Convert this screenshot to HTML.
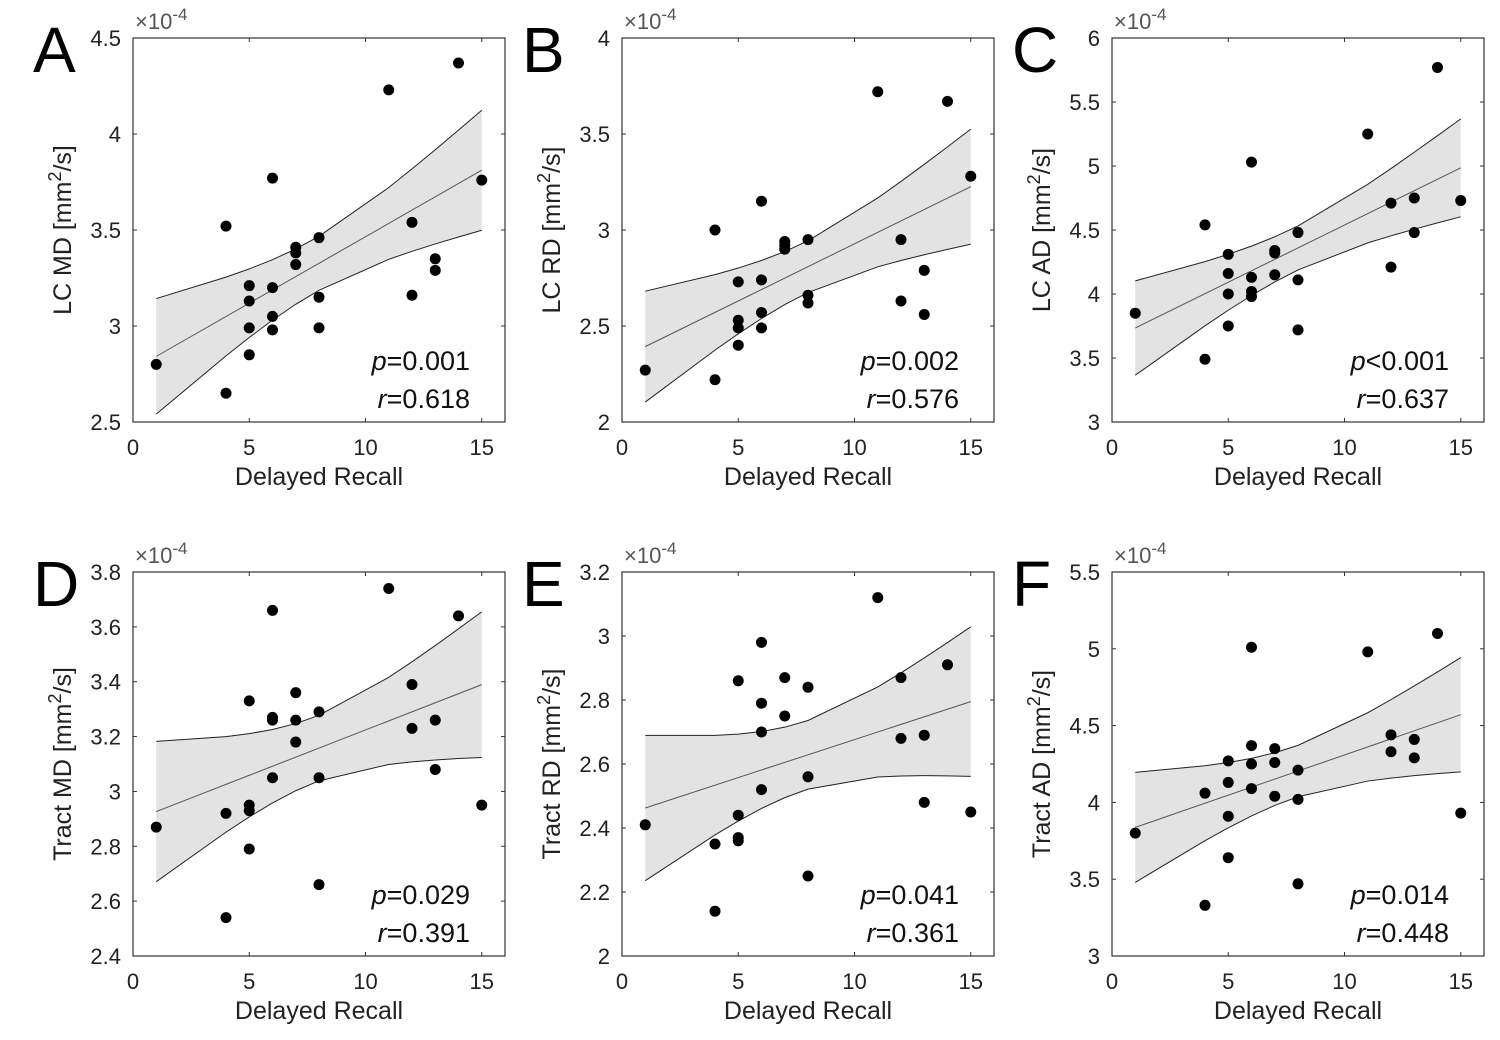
<!DOCTYPE html>
<html><head><meta charset="utf-8"><style>
body{margin:0;background:#fff;}
svg text{font-family:"Liberation Sans","DejaVu Sans",sans-serif;}
</style></head><body>
<svg id="fig" width="1500" height="1035" xmlns="http://www.w3.org/2000/svg"></svg>
<script>
const xA=[1,4,4,5,5,5,5,6,6,6,6,7,7,7,8,8,8,11,12,12,13,13,14,15];
const yA=[2.80,3.52,2.65,3.21,3.13,2.99,2.85,3.77,3.20,3.05,2.98,3.41,3.38,3.32,3.46,3.15,2.99,4.23,3.54,3.16,3.35,3.29,4.37,3.76];
const yB=[2.27,3.00,2.22,2.73,2.53,2.49,2.40,3.15,2.74,2.57,2.49,2.94,2.92,2.90,2.95,2.66,2.62,3.72,2.95,2.63,2.79,2.56,3.67,3.28];
const yC=[3.85,4.54,3.49,4.31,4.16,4.00,3.75,5.03,4.13,4.02,3.98,4.34,4.32,4.15,4.48,4.11,3.72,5.25,4.71,4.21,4.75,4.48,5.77,4.73];
const yD=[2.87,2.92,2.54,3.33,2.95,2.93,2.79,3.66,3.27,3.26,3.05,3.36,3.26,3.18,3.29,3.05,2.66,3.74,3.39,3.23,3.26,3.08,3.64,2.95];
const xE=[1,4,4,5,5,5,5,6,6,6,6,7,7,8,8,8,11,12,12,13,13,14,15];
const yE=[2.41,2.35,2.14,2.86,2.44,2.37,2.36,2.98,2.79,2.70,2.52,2.87,2.75,2.84,2.56,2.25,3.12,2.87,2.68,2.69,2.48,2.91,2.45];
const yF=[3.80,4.06,3.33,4.27,4.13,3.91,3.64,5.01,4.37,4.25,4.09,4.35,4.26,4.04,4.21,4.02,3.47,4.98,4.44,4.33,4.41,4.29,5.10,3.93];
const xTicks=[0,5,10,15];
const ticksA=[2.5,3,3.5,4,4.5], ticksB=[2,2.5,3,3.5,4], ticksC=[3,3.5,4,4.5,5,5.5,6];
const ticksD=[2.4,2.6,2.8,3,3.2,3.4,3.6,3.8], ticksE=[2,2.2,2.4,2.6,2.8,3,3.2], ticksF=[3,3.5,4,4.5,5,5.5];
const panels=[
 {L:'A',x:xA,y:yA,t:ticksA,lab:'LC MD',p:'=0.001',r:'=0.618',col:0,row:0},
 {L:'B',x:xA,y:yB,t:ticksB,lab:'LC RD',p:'=0.002',r:'=0.576',col:1,row:0},
 {L:'C',x:xA,y:yC,t:ticksC,lab:'LC AD',p:'<0.001',r:'=0.637',col:2,row:0},
 {L:'D',x:xA,y:yD,t:ticksD,lab:'Tract MD',p:'=0.029',r:'=0.391',col:0,row:1},
 {L:'E',x:xE,y:yE,t:ticksE,lab:'Tract RD',p:'=0.041',r:'=0.361',col:1,row:1},
 {L:'F',x:xA,y:yF,t:ticksF,lab:'Tract AD',p:'=0.014',r:'=0.448',col:2,row:1}];
const NS='http://www.w3.org/2000/svg', svg=document.getElementById('fig');
function mk(tag,at,parent,txt){const e=document.createElementNS(NS,tag);for(const k in at)e.setAttribute(k,at[k]);if(txt!==undefined)e.textContent=txt;(parent||svg).appendChild(e);return e;}
const lefts=[133,622,1112], tops=[38,572], bots=[422,956], W=372;
panels.forEach(P=>{
 const x0=lefts[P.col], top=tops[P.row], bot=bots[P.row];
 const ymin=P.t[0], ymax=P.t[P.t.length-1];
 const sx=v=>x0+v/16*W, sy=v=>bot-(v-ymin)/(ymax-ymin)*(bot-top);
 const g=mk('g',{});
 
 
 const n=P.x.length; let mx=0,my=0; for(let i=0;i<n;i++){mx+=P.x[i];my+=P.y[i];} mx/=n;my/=n;
 let sxx=0,sxy=0; for(let i=0;i<n;i++){sxx+=(P.x[i]-mx)**2;sxy+=(P.x[i]-mx)*(P.y[i]-my);}
 const b=sxy/sxx,a=my-b*mx; let sse=0; for(let i=0;i<n;i++)sse+=(P.y[i]-a-b*P.x[i])**2;
 const s=Math.sqrt(sse/(n-2)), tq=2.074;
 const ux=[...new Set(P.x)].sort((p,q)=>p-q);
 const hw=v=>tq*s*Math.sqrt(1/n+(v-mx)**2/sxx);
 const up=ux.map(v=>[sx(v),sy(a+b*v+hw(v))]), lo=ux.map(v=>[sx(v),sy(a+b*v-hw(v))]);
 const band=mk('polygon',{points:up.concat(lo.slice().reverse()).map(p=>p.join(',')).join(' '),fill:'#e3e3e3',stroke:'none'},g);
 
 
 const u=mk('polyline',{points:up.map(p=>p.join(',')).join(' '),fill:'none',stroke:'#222','stroke-width':1},g);
 
 
 const l=mk('polyline',{points:lo.map(p=>p.join(',')).join(' '),fill:'none',stroke:'#222','stroke-width':1},g);
 
 
 const fl=mk('line',{x1:sx(ux[0]),y1:sy(a+b*ux[0]),x2:sx(ux[ux.length-1]),y2:sy(a+b*ux[ux.length-1]),stroke:'#555','stroke-width':1},g);
 
 
 const bx=mk('rect',{x:x0,y:top,width:W,height:bot-top,fill:'none',stroke:'#333','stroke-width':1.2},g);
 
 
 xTicks.forEach(v=>{
  mk('line',{x1:sx(v),x2:sx(v),y1:bot,y2:bot-4,stroke:'#333'},g);
  mk('line',{x1:sx(v),x2:sx(v),y1:top,y2:top+4,stroke:'#333'},g);
  const t=mk('text',{x:sx(v),y:bot+33,'font-size':22,fill:'#222','text-anchor':'middle'},g,String(v));
  
  
 });
 P.t.forEach(v=>{
  mk('line',{x1:x0,x2:x0+4,y1:sy(v),y2:sy(v),stroke:'#333'},g);
  mk('line',{x1:x0+W,x2:x0+W-4,y1:sy(v),y2:sy(v),stroke:'#333'},g);
  const t=mk('text',{x:x0-12,y:sy(v)+8,'font-size':22,fill:'#222','text-anchor':'end'},g,String(v));
  
  
 });
 for(let i=0;i<n;i++){
  const c=mk('circle',{cx:sx(P.x[i]),cy:sy(P.y[i]),r:5.5,fill:'#000'},g);
  
  
 }
 const ex=mk('text',{x:x0+2,y:top-9,'font-size':22,fill:'#555'},g);
 
 
 ex.innerHTML='×10<tspan dy="-9" font-size="17">-4</tspan>';
 const xl=mk('text',{x:x0+186,y:bot+63,'font-size':25,fill:'#222','text-anchor':'middle'},g,'Delayed Recall');
 
 
 const cy=(top+bot)/2;
 const yl=mk('text',{x:0,y:0,'font-size':25,fill:'#222','text-anchor':'middle',transform:`translate(${x0-62},${cy}) rotate(-90)`},g);
 
 
 yl.innerHTML=P.lab+' [mm<tspan dy="-10" font-size="18">2</tspan><tspan dy="10">/s]</tspan>';
 const pt=mk('text',{x:x0+337,y:bot-52,'font-size':27,fill:'#111','text-anchor':'end'},g);
 
 
 pt.innerHTML='<tspan font-style="italic">p</tspan>'+P.p.replace('<','&lt;');
 const rt=mk('text',{x:x0+337,y:bot-14,'font-size':27,fill:'#111','text-anchor':'end'},g);
 
 
 rt.innerHTML='<tspan font-style="italic">r</tspan>'+P.r;
 const L=mk('text',{x:x0-100,y:top+34,'font-size':64,fill:'#000'},g,P.L);
 
 
});
</script>
</body></html>
